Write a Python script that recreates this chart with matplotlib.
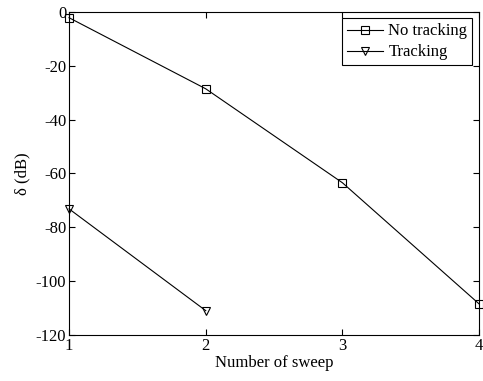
import matplotlib
matplotlib.use('Agg')
import matplotlib.pyplot as plt

plt.rcParams['font.family'] = ['Liberation Serif', 'DejaVu Serif']
plt.rcParams['font.size'] = 12
plt.rcParams['axes.unicode_minus'] = False

# data
sweeps_no = [1, 2, 3, 4]
delta_no = [-2.2, -28.6, -63.5, -108.5]
sweeps_tr = [1, 2]
delta_tr = [-73.2, -111]

fig = plt.figure(figsize=(4.83, 3.81), dpi=100)
ax = fig.add_axes([0.143, 0.121, 0.849, 0.848])

ax.plot(sweeps_no, delta_no, color='black', lw=0.8, marker='s', ms=6,
        mfc='none', mew=0.8, label='No tracking', clip_on=False)
ax.plot(sweeps_tr, delta_tr, color='black', lw=0.8, marker='v', ms=6,
        mfc='none', mew=0.8, label='Tracking', clip_on=False)

ax.set_xlim(1, 4)
ax.set_ylim(-120, 0)
ax.set_xticks([1, 2, 3, 4])
ax.set_yticks(range(-120, 1, 20))
ax.tick_params(direction='in', top=True, right=True, length=4, width=0.8, pad=2)
for s in ax.spines.values():
    s.set_linewidth(0.8)

ax.set_xlabel('Number of sweep', labelpad=1)
ax.set_ylabel('δ (dB)', labelpad=4)

leg = ax.legend(loc='upper right', fancybox=False, edgecolor='black',
                framealpha=1, handlelength=2.2, borderpad=0.3,
                labelspacing=0.3, handletextpad=0.3, borderaxespad=0.4)
leg.get_frame().set_linewidth(0.8)

fig.savefig('out.png', dpi=100)
